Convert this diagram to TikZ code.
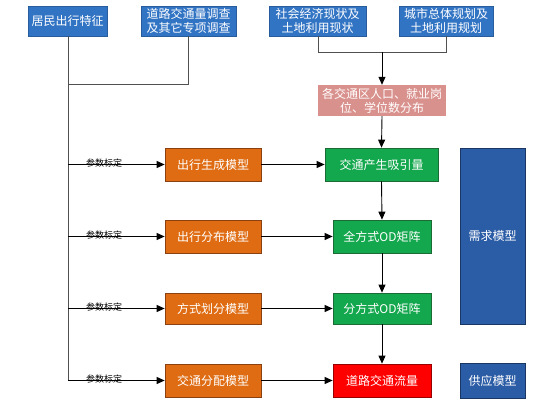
\documentclass[tikz,border=0pt]{standalone}
\usepackage{fontspec}
\newfontfamily\cjk{Noto Sans CJK SC}
\usetikzlibrary{arrows.meta}
\definecolor{topblue}{HTML}{3274C4}
\definecolor{darkblue}{HTML}{2B5CA6}
\definecolor{orangefill}{HTML}{DF6C12}
\definecolor{orangeline}{HTML}{8A4010}
\definecolor{greenfill}{HTML}{14A84E}
\definecolor{greenline}{HTML}{1C6B34}
\definecolor{pinkfill}{HTML}{D9918D}
\definecolor{wire}{HTML}{505050}
\tikzset{
  box/.style={inner sep=0pt, align=center, text=white, font=\cjk\fontsize{12}{14}\selectfont},
  topbox/.style={box, fill=topblue, draw=topblue!80!black, line width=0.4pt},
  pinkbox/.style={box, fill=pinkfill},
  orangebox/.style={box, fill=orangefill, draw=orangeline, line width=0.7pt},
  greenbox/.style={box, fill=greenfill, draw=greenline, line width=0.7pt},
  redbox/.style={box, fill=red, draw=red!60!black, line width=0.7pt},
  modelbox/.style={box, fill=darkblue, draw=darkblue!60!black, line width=0.7pt},
  wireline/.style={draw=wire, line width=0.9pt},
  arr/.style={wireline, -{Triangle[length=8pt,width=7pt]}, black},
  lab/.style={font=\cjk\fontsize{9}{10}\selectfont, inner sep=0pt}
}
\begin{document}
\begin{tikzpicture}[x=1pt,y=-1pt]
\path[fill=white] (0,0) rectangle (560,406);
\useasboundingbox (0,0) rectangle (560,406);

\node[topbox, minimum width=79pt, minimum height=30pt] (t1) at (67.5,21) {居民出行特征};
\node[topbox, minimum width=95pt, minimum height=30pt] (t2) at (188.5,21) {道路交通量调查\\及其它专项调查};
\node[topbox, minimum width=97pt, minimum height=30pt] (t3) at (317.5,21) {社会经济现状及\\土地利用现状};
\node[topbox, minimum width=94pt, minimum height=30pt] (t4) at (446,21) {城市总体规划及\\土地利用规划};

\node[pinkbox, minimum width=128pt, minimum height=31pt] (pk) at (382,100.5) {各交通区人口、就业岗\\位、学位数分布};

\node[greenbox, minimum width=113pt, minimum height=33pt] (g1) at (381.5,164.5) {交通产生吸引量};
\node[greenbox, minimum width=98pt, minimum height=33pt] (g2) at (382,236.5) {全方式OD矩阵};
\node[greenbox, minimum width=98pt, minimum height=31pt] (g3) at (382,308.5) {分方式OD矩阵};
\node[redbox, minimum width=98pt, minimum height=33pt] (g4) at (382,380.5) {道路交通流量};

\node[orangebox, minimum width=96pt, minimum height=33pt] (o1) at (213,164.5) {出行生成模型};
\node[orangebox, minimum width=96pt, minimum height=33pt] (o2) at (213,236.5) {出行分布模型};
\node[orangebox, minimum width=96pt, minimum height=31pt] (o3) at (213,308.5) {方式划分模型};
\node[orangebox, minimum width=96pt, minimum height=33pt] (o4) at (213,380.5) {交通分配模型};

\node[modelbox, minimum width=65pt, minimum height=176pt] (dm) at (492.5,236) {需求模型};
\node[modelbox, minimum width=65pt, minimum height=35pt] (sm) at (492.5,380.5) {供应模型};

% left trunk
\coordinate (j1) at (68,84);
\coordinate (b1) at (68,164.5);
\coordinate (b2) at (68,236.5);
\coordinate (b3) at (68,308.5);
\coordinate (b4) at (68,380.5);
\draw[wireline] (t1.south -| j1) -- (b4);
\draw[wireline] (t2.south) |- (j1);

% right top merge
\coordinate (h3) at (318,52);
\coordinate (h4) at (446,52);
\coordinate (hm) at (382,52);
\draw[wireline] (t3.south -| h3) -- (h3) -- (h4) -- (t4.south);
\draw[arr] (hm) -- (pk.north);
\draw[arr] (pk.south) -- (g1.north);
\draw[arr] (g1.south) -- (g2.north);
\draw[arr] (g2.south) -- (g3.north);
\draw[arr] (g3.south) -- (g4.north);

% branches
\foreach \i in {1,2,3,4}{
  \draw[arr] (b\i) -- (o\i.west);
  \draw[arr] (o\i.east) -- (g\i.west);
  \node[lab, anchor=south west] (l\i) at ([xshift=18pt,yshift=-3pt]b\i) {参数标定};
}
\end{tikzpicture}
\end{document}
